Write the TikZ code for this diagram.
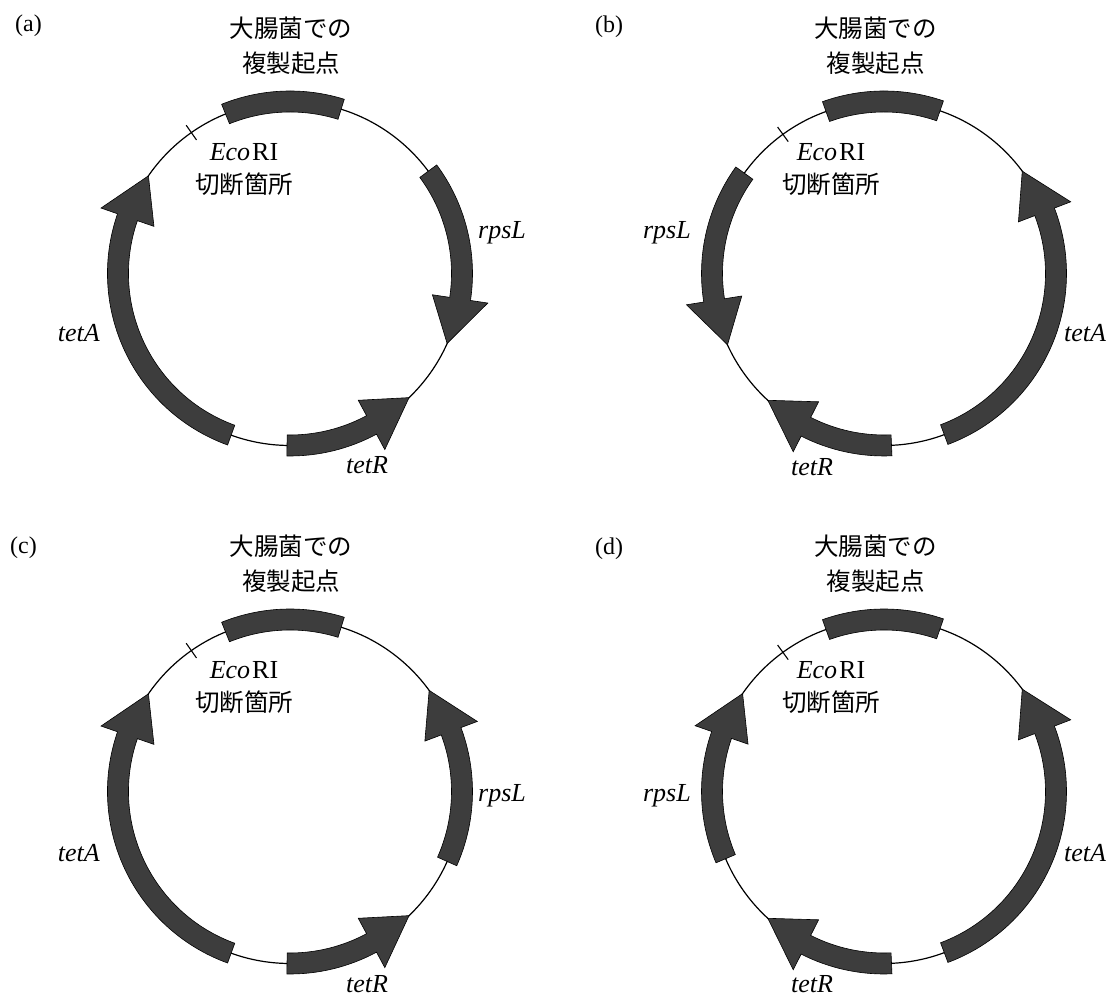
\documentclass[tikz,border=0pt]{standalone}
\usepackage{fontspec}
\setmainfont{Liberation Serif}
\newfontfamily\cjk{Noto Sans CJK JP}
\newcommand{\gene}[2]{%
  \pgfmathsetmacro{\genT}{#1}%
  \pgfmathsetmacro{\genP}{#2}%
  \pgfmathsetmacro{\genB}{#2-15.5*sign(#2-#1)}%
  \filldraw[genefill] (\genT:182.5) arc[start angle=\genT, end angle=\genB, radius=182.5]
    -- (\genB:200) -- (\genP:172) -- (\genB:144) -- (\genB:161.5)
    arc[start angle=\genB, end angle=\genT, radius=161.5] -- cycle;
}
% #1 prefix, #2 ori start, #3 ori end, #4 tick angle, #5 EcoRI x, #6 title x
\newcommand{\plasmidbase}[6]{%
  \draw[ring] (0,0) circle[radius=172];
  \filldraw[genefill] (#2:182.5) arc[start angle=#2,end angle=#3,radius=182.5]
    -- (#3:161.5) arc[start angle=#3,end angle=#2,radius=161.5] -- cycle;
  \draw[sitetick] (#4:163) -- (#4:181);
  \node[cjklabel] (#1t1) at (#6,235.7) {大腸菌での};
  \node[cjklabel] (#1t2) at (#6,201.2) {複製起点};
  \node[latinlabel] (#1e1) at (#5,113.4) {\textit{Eco}\kern2pt RI};
  \node[cjklabel] (#1e2) at (#5,79.7) {切断箇所};
}
\begin{document}
\begin{tikzpicture}[x=1pt,y=1pt,
  ring/.style={line width=1.2pt},
  sitetick/.style={line width=1.1pt},
  genefill/.style={fill=black!76, draw=black, line width=0.6pt, line join=miter},
  cjklabel/.style={font=\cjk\fontsize{24.5}{28}\selectfont, anchor=base, inner sep=0pt},
  latinlabel/.style={font=\fontsize{26}{30}\selectfont, anchor=base, inner sep=0pt},
  genelabel/.style={font=\fontsize{26}{30}\selectfont\itshape, inner sep=0pt},
  panellabel/.style={font=\fontsize{24}{28}\selectfont, anchor=base west, inner sep=0pt},
]
\useasboundingbox (0,0) rectangle (1108,998);
\fill[white] (0,0) rectangle (1108,998);

% panel labels
\node[panellabel] (la) at (15,966.5) {(a)};
\node[panellabel] (lb) at (595,965.5) {(b)};
\node[panellabel] (lc) at (10,444) {(c)};
\node[panellabel] (ld) at (595,443) {(d)};

% (a)
\begin{scope}[shift={(290,724.5)}]
  \plasmidbase{a}{72.7}{112}{125}{-46}{1}
  \gene{250}{145.4}
  \gene{36.5}{-24}
  \gene{269}{313.8}
  \node[genelabel, anchor=base east] (atetA) at (-190,-68) {tetA};
  \node[genelabel, anchor=base west] (arpsL) at (188,35) {rpsL};
  \node[genelabel, anchor=base] (atetR) at (77,-200) {tetR};
\end{scope}

% (b)
\begin{scope}[shift={(884,724.5)}]
  \plasmidbase{b}{71}{109.7}{126}{-53}{-8.5}
  \gene{-69.5}{36.5}
  \gene{144.3}{204.5}
  \gene{272.5}{227.5}
  \node[genelabel, anchor=base west] (btetA) at (180,-68) {tetA};
  \node[genelabel, anchor=base east] (brpsL) at (-193,35) {rpsL};
  \node[genelabel, anchor=base] (btetR) at (-72,-202) {tetR};
\end{scope}

% (c)
\begin{scope}[shift={(290,206.5)}]
  \plasmidbase{c}{72.7}{112}{125}{-46}{1}
  \gene{250}{145.4}
  \gene{-24}{36}
  \gene{269}{313.8}
  \node[genelabel, anchor=base east] (ctetA) at (-190,-70) {tetA};
  \node[genelabel, anchor=base west] (crpsL) at (188,-10) {rpsL};
  \node[genelabel, anchor=base] (ctetR) at (77,-201.5) {tetR};
\end{scope}

% (d)
\begin{scope}[shift={(884,206.5)}]
  \plasmidbase{d}{71}{109.7}{126}{-53}{-8.5}
  \gene{-69.5}{36.5}
  \gene{203}{145.3}
  \gene{272.5}{227.5}
  \node[genelabel, anchor=base west] (dtetA) at (180,-70) {tetA};
  \node[genelabel, anchor=base east] (drpsL) at (-193,-10) {rpsL};
  \node[genelabel, anchor=base] (dtetR) at (-72,-201.5) {tetR};
\end{scope}
\end{tikzpicture}
\end{document}
